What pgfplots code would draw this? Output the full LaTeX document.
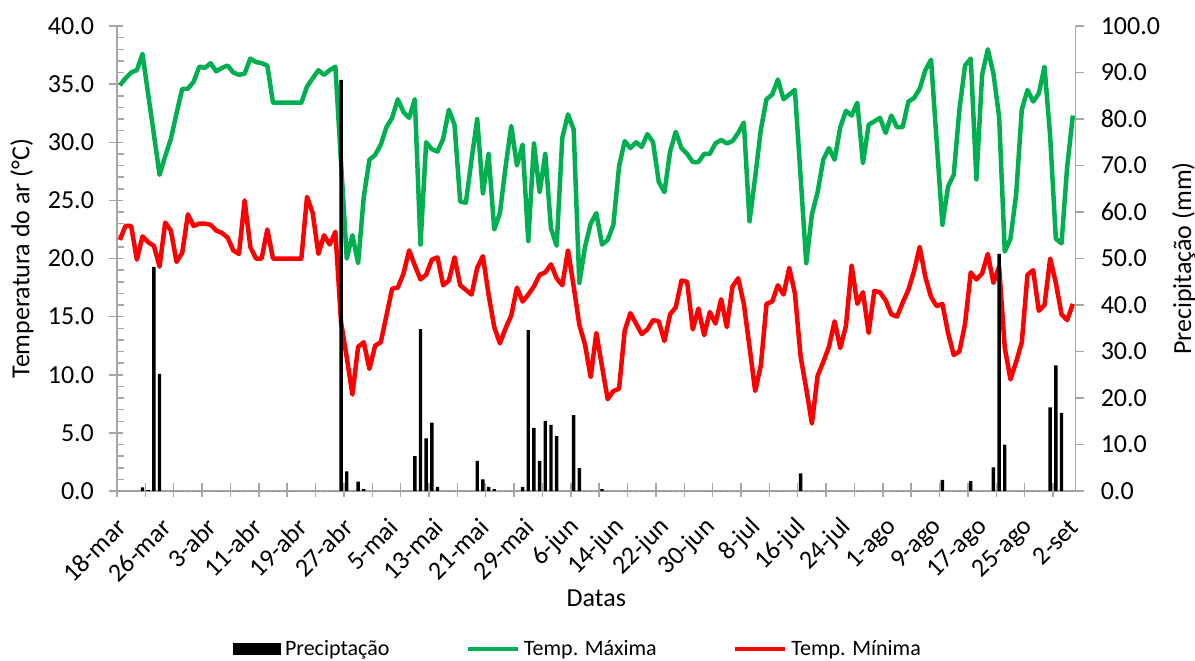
\documentclass[border=0pt]{standalone}
\usepackage{pgfplots}
\pgfplotsset{compat=1.18}
\usepackage{pgfplotstable}
\usepackage{fontspec}
\setmainfont{Carlito}
\definecolor{tmaxc}{HTML}{00B050}
\definecolor{tminc}{HTML}{FF0000}
\definecolor{axgray}{HTML}{A6A6A6}
\pgfplotsset{
  mylineleg/.style={legend image code/.code={\draw[##1] (0pt,0pt) -- (25pt,0pt);}},
  mybarleg/.style={legend image code/.code={\fill[black] (0pt,-3.2pt) rectangle (24pt,3.2pt);}},
}
\pgfplotstableread{
d tmax tmin prec
0 34.9 21.6 0
1 35.5 22.8 0
2 36.0 22.8 0
3 36.2 19.9 0
4 37.6 21.9 0.8
5 34.1 21.4 0.2
6 30.7 21.1 48.2
7 27.2 19.3 25.2
8 28.8 23.1 0
9 30.3 22.4 0
10 32.5 19.7 0
11 34.6 20.5 0
12 34.6 23.8 0
13 35.2 22.8 0
14 36.5 23.0 0
15 36.4 23.0 0
16 36.8 22.9 0
17 36.1 22.4 0
18 36.4 22.2 0
19 36.6 21.8 0
20 36.0 20.7 0
21 35.8 20.4 0
22 35.9 25.0 0
23 37.2 21.0 0
24 36.9 20.0 0
25 36.8 20.0 0
26 36.6 22.5 0
27 33.4 20.0 0
28 33.4 20.0 0
29 33.4 20.0 0
30 33.4 20.0 0
31 33.4 20.0 0
32 33.4 20.0 0
33 34.8 25.3 0
34 35.5 23.9 0
35 36.2 20.4 0
36 35.8 22.0 0
37 36.2 21.2 0
38 36.5 22.3 0
39 28.2 14.5 88.4
40 20.0 11.5 4.2
41 22.0 8.3 0
42 19.6 12.4 2.0
43 25.3 12.8 0.4
44 28.5 10.5 0
45 28.9 12.5 0
46 29.8 12.8 0
47 31.3 15.1 0
48 32.1 17.4 0
49 33.7 17.5 0
50 32.6 18.7 0
51 32.1 20.7 0
52 33.7 19.4 7.5
53 21.2 18.2 34.8
54 30.0 18.6 11.3
55 29.4 19.9 14.7
56 29.2 20.1 0.9
57 30.3 17.7 0
58 32.8 18.1 0
59 31.5 20.1 0
60 24.9 17.7 0
61 24.8 17.3 0
62 28.5 16.9 0
63 32.0 19.2 6.5
64 25.6 20.2 2.5
65 29.0 16.9 0.9
66 22.5 14.1 0.4
67 23.9 12.7 0
68 27.9 14.0 0
69 31.4 15.1 0
70 28.0 17.5 0
71 29.8 16.3 0.9
72 21.5 16.9 34.6
73 29.9 17.6 13.6
74 25.7 18.6 6.5
75 29.0 18.8 15.1
76 22.6 19.5 14.2
77 21.1 18.3 11.8
78 30.4 17.7 0
79 32.4 20.7 0
80 31.1 17.6 16.3
81 17.9 14.3 4.9
82 21.0 12.6 0
83 23.0 9.8 0
84 23.9 13.6 0
85 21.2 10.7 0.4
86 21.6 7.9 0
87 22.9 8.6 0
88 27.9 8.8 0
89 30.1 13.8 0
90 29.5 15.3 0
91 30.0 14.4 0
92 29.6 13.5 0
93 30.7 13.9 0
94 30.0 14.7 0
95 26.6 14.6 0
96 25.7 12.9 0
97 29.2 15.2 0
98 30.9 15.8 0
99 29.5 18.1 0
100 29.0 18.0 0
101 28.3 13.9 0
102 28.3 15.7 0
103 29.0 13.4 0
104 29.0 15.4 0
105 29.9 14.4 0
106 30.2 16.5 0
107 29.9 14.1 0
108 30.1 17.6 0
109 30.8 18.3 0
110 31.7 16.1 0
111 23.2 12.4 0
112 27.0 8.6 0
113 31.1 10.8 0
114 33.7 16.1 0
115 34.1 16.3 0
116 35.4 17.7 0
117 33.7 16.9 0
118 34.1 19.2 0
119 34.5 17.0 0
120 27.1 11.6 3.8
121 19.6 8.8 0
122 23.8 5.8 0
123 25.7 9.9 0
124 28.5 11.1 0
125 29.5 12.4 0
126 28.5 14.6 0
127 31.3 12.3 0
128 32.7 14.2 0
129 32.3 19.4 0
130 33.4 16.1 0
131 28.2 17.1 0
132 31.5 13.6 0
133 31.8 17.2 0
134 32.1 17.1 0
135 30.8 16.4 0
136 32.3 15.2 0
137 31.3 15.0 0
138 31.3 16.2 0
139 33.5 17.3 0
140 33.8 18.9 0
141 34.6 21.0 0
142 36.2 18.4 0
143 37.1 16.7 0
144 30.0 15.9 0
145 22.9 16.1 2.4
146 26.2 13.6 0
147 27.2 11.7 0
148 32.8 12.0 0
149 36.6 14.4 0
150 37.2 18.8 2.1
151 26.8 18.2 0
152 35.8 18.7 0
153 38.0 20.4 0
154 35.9 17.9 5.1
155 32.2 19.3 51.0
156 20.6 12.3 10.0
157 21.7 9.6 0
158 25.5 11.1 0
159 32.8 12.8 0
160 34.5 18.6 0
161 33.5 19.0 0
162 34.2 15.5 0
163 36.5 16.0 0
164 30.5 20.0 18.0
165 21.7 17.9 27.0
166 21.3 15.2 16.8
167 27.9 14.7 0
168 32.3 16.1 0
}\data
\begin{document}
\begin{tikzpicture}
\begin{axis}[
  scale only axis, width=479.35pt, height=232.5pt,
  xmin=-0.5, xmax=168.5, ymin=0, ymax=40,
  axis x line*=bottom, axis y line*=left,
  axis line style={-, draw=axgray, line width=0.75pt},
  tick style={draw=axgray, line width=0.75pt},
  tick align=inside, major tick length=7pt, minor tick length=3.5pt,
  major y tick style={xshift=-4pt},
  major x tick style={yshift=-3pt},
  ytick={0,5,...,40}, minor y tick num=4,
  /pgf/number format/assume math mode=true,
  yticklabel style={/pgf/number format/.cd, fixed, fixed zerofill, precision=1, /tikz/.cd,
    font=\fontsize{13}{15}\selectfont, xshift=-8pt},
  xtick={-0.5,4.5,...,165}, xticklabels={},
  extra x ticks={0,8,...,168},
  extra x tick labels={18-mar,26-mar,3-abr,11-abr,19-abr,27-abr,5-mai,13-mai,21-mai,29-mai,6-jun,14-jun,22-jun,30-jun,8-jul,16-jul,24-jul,1-ago,9-ago,17-ago,25-ago,2-set},
  extra x tick style={major tick length=0pt},
  xticklabel style={rotate=45, anchor=east, xshift=-7.3pt, yshift=-11.8pt, font=\fontsize{13}{15}\selectfont},
  xlabel={Datas},
  xlabel style={at={(axis description cs:0.5,0)}, anchor=center, yshift=-53.5pt, font=\fontsize{13}{15}\selectfont},
  ylabel={Temperatura do ar (°C)},
  ylabel style={at={(axis description cs:-0.0991,0.5)}, anchor=center, font=\fontsize{13}{15}\selectfont},
]
\addplot[tmaxc, line width=2.25pt, line join=round, mark=none] table[x=d, y=tmax]{\data};
\addplot[tminc, line width=2.25pt, line join=round, mark=none] table[x=d, y=tmin]{\data};
\end{axis}
\begin{axis}[
  scale only axis, width=479.35pt, height=232.5pt,
  xmin=-0.5, xmax=168.5, ymin=0, ymax=100,
  axis x line=none, axis y line*=right,
  axis line style={-, draw=axgray, line width=0.75pt},
  tick style={draw=axgray, line width=0.75pt},
  tick align=outside, major tick length=4pt,
  ytick={0,10,...,100},
  /pgf/number format/assume math mode=true,
  yticklabel style={/pgf/number format/.cd, fixed, fixed zerofill, precision=1, /tikz/.cd,
    font=\fontsize{13}{15}\selectfont, xshift=5pt},
  ylabel={Precipitação (mm)},
  ylabel style={at={(axis description cs:1.1127,0.5)}, anchor=center, font=\fontsize{13}{15}\selectfont},
  legend columns=3,
  legend style={draw=none, fill=none, at={(axis description cs:0.5,0)}, anchor=center,
    yshift=-79pt, xshift=-8.7pt, font=\fontsize{11}{13}\selectfont,
    /tikz/every even column/.append style={column sep=36pt}},
  legend cell align=left,
]
\addplot[ybar, bar width=0.6, fill=black, draw=none, mybarleg] table[x=d, y=prec]{\data};
\addlegendentry{Preciptação}
\addlegendimage{tmaxc, line width=2.25pt, mylineleg}
\addlegendentry{Temp. Máxima}
\addlegendimage{tminc, line width=2.25pt, mylineleg}
\addlegendentry{Temp. Mínima}
\end{axis}
\pgfresetboundingbox
\path[use as bounding box] (-58.5pt,-84.5pt) rectangle (539pt,245.5pt);
\end{tikzpicture}
\end{document}
